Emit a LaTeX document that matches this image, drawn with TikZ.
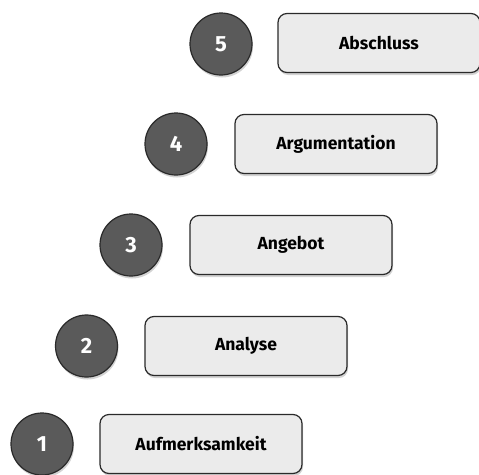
\documentclass[tikz,border=0pt]{standalone}
\usepackage{fontspec}
\setmainfont{Fira Sans}
\usetikzlibrary{shadows}
\definecolor{boxfill}{HTML}{EBEBEB}
\definecolor{circfill}{HTML}{5A5A5A}
\definecolor{edge}{HTML}{2A2A2A}
\tikzset{
  stepbox/.style={draw=edge, line width=1.2pt, fill=boxfill, rounded corners=9pt,
    minimum width=202pt, minimum height=59pt, inner sep=0pt,
    font=\fontsize{17.5}{20}\selectfont\bfseries,
    drop shadow={shadow xshift=1pt, shadow yshift=-2.5pt, opacity=0.35}},
  stepnum/.style={circle, draw=edge, line width=1.2pt, fill=circfill, minimum size=62pt,
    inner sep=0pt, text=white, font=\fontsize{22}{24}\selectfont\bfseries,
    drop shadow={shadow xshift=1pt, shadow yshift=-2.5pt, opacity=0.35}}
}
\begin{document}
\begin{tikzpicture}[x=1pt,y=-1pt]
\useasboundingbox (0,0) rectangle (479,474);
\node[stepnum] (c1) at (42,444) {1};
\node[stepbox] (b1) at (201,444) {Aufmerksamkeit};
\node[stepnum] (c2) at (86.5,346) {2};
\node[stepbox] (b2) at (246,346) {Analyse};
\node[stepnum] (c3) at (131,245) {3};
\node[stepbox] (b3) at (291,245) {Angebot};
\node[stepnum] (c4) at (176,144) {4};
\node[stepbox] (b4) at (336,144) {Argumentation};
\node[stepnum] (c5) at (221,44) {5};
\node[stepbox] (b5) at (379,43) {Abschluss};
\end{tikzpicture}
\end{document}
